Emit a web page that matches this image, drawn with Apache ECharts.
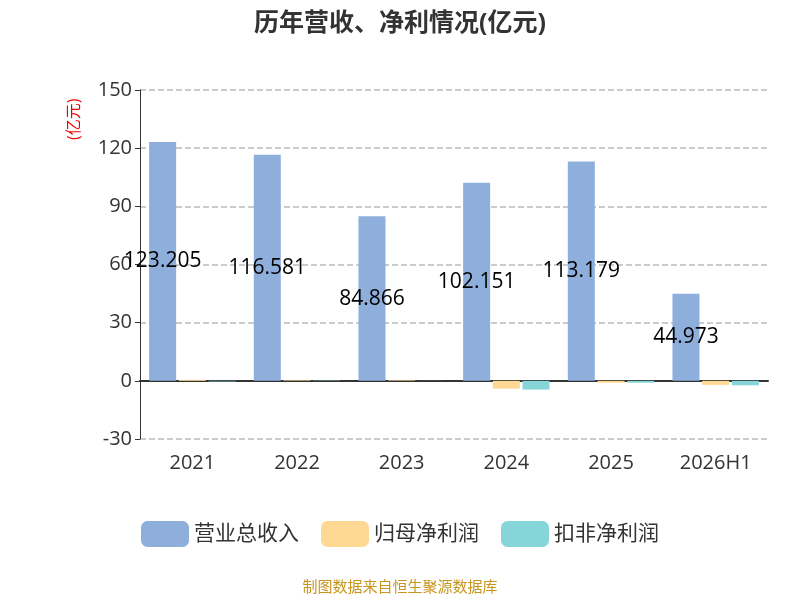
<!DOCTYPE html><html><head><meta charset="utf-8"><script src="https://cdn.jsdelivr.net/npm/echarts@6/dist/echarts.min.js"></script></head><body style="margin:0"><div id="c" style="width:800px;height:600px"></div><script>
const categories=['2021','2022','2023','2024','2025','2026H1'];
const revenue=[123.205,116.581,84.866,102.151,113.179,44.973];
const netProfit=[0.5,0.3,0.3,-4.0,-1.0,-2.1];
const deductProfit=[-0.3,0.2,0.05,-4.5,-1.0,-2.3];
const yTicks=[-30,0,30,60,90,120,150];
const f='"Open Sans","Noto Sans CJK SC",sans-serif';
const ch=echarts.init(document.getElementById('c'));
ch.setOption({
title:{text:'历年营收、净利情况(亿元)',left:'center',top:6,textStyle:{fontSize:25,fontWeight:'bold',color:'#333',fontFamily:f}},
graphic:[{type:'text',left:'center',top:580,style:{text:'制图数据来自恒生聚源数据库',fill:'#c8961e',font:'15px '+f}},
{type:'text',x:66,y:140,rotation:Math.PI/2,style:{text:'(亿元)',fill:'#e00',font:'16px '+f}}],
legend:{bottom:48,itemWidth:48,itemHeight:26,itemGap:22,icon:'roundRect',textStyle:{fontSize:21,color:'#333',fontFamily:f}},
grid:{left:140,right:32,top:90,bottom:161},
xAxis:{type:'category',data:categories,axisLine:{onZero:true,lineStyle:{color:'#333',width:2}},axisTick:{length:8,lineStyle:{width:2}},axisLabel:{fontSize:20,color:'#333',margin:14,fontFamily:f}},
yAxis:{type:'value',min:yTicks[0],max:yTicks[yTicks.length-1],interval:30,axisLine:{show:true,lineStyle:{color:'#333'}},axisTick:{show:true},axisLabel:{fontSize:20,color:'#333',fontFamily:f},splitLine:{lineStyle:{type:'dashed',color:'#bbb',width:1.5}}},
series:[
{name:'营业总收入',type:'bar',data:revenue,barWidth:27,barGap:'10%',itemStyle:{color:'#8eaedb'},label:{show:true,position:'inside',color:'#000',fontSize:21,fontFamily:f}},
{name:'归母净利润',type:'bar',data:netProfit,barWidth:27,itemStyle:{color:'#ffd894'}},
{name:'扣非净利润',type:'bar',data:deductProfit,barWidth:27,itemStyle:{color:'#86d5d9'}}]
});
</script></body></html>
